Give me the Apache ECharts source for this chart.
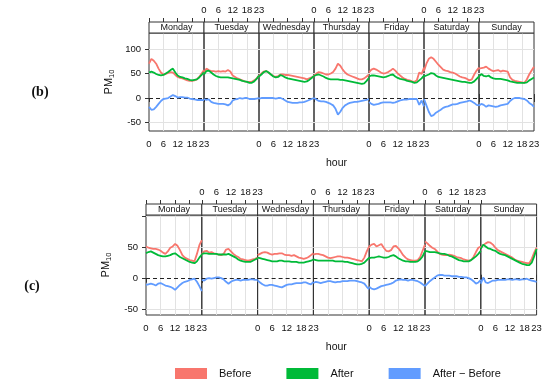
<!DOCTYPE html>
<html><head><meta charset="utf-8">
<script src="https://cdn.jsdelivr.net/npm/echarts@6/dist/echarts.min.js"></script>
<style>html,body{margin:0;padding:0;background:#fff}#c{width:550px;height:385px}</style>
</head><body><div id="c"></div>
<script>
const DAYS = ['Monday','Tuesday','Wednesday','Thursday','Friday','Saturday','Sunday'];
const HOURS = [0,1,2,3,4,5,6,7,8,9,10,11,12,13,14,15,16,17,18,19,20,21,22,23];
const HOUR_TICKS = [0,6,12,18,23];
const HOUR_GRID = [6,12,18];
const Y_TICKS = [-50,0,50,100];
const Y_GRID = [-50,50,100];
const Y_LABELS_B = [-50,0,50,100];
const Y_LABELS_C = [-50,0,50];
const SERIES_NAMES = ['Before','After','After − Before'];
const COLORS = ['#F8766D','#00BA38','#619CFF'];

// Panel (b)
const B_BEFORE = [
 [70,80,76,70,60,52,48,49,51,53,52,47,43,41,40,38,36,35,35,36,38,43,50,57],
 [52,60,57,55,55,54,55,54,55,54,57,54,46,43,40,38,36,34,33,33,33,36,40,46],
 [45,50,54,55,52,48,45,43,45,48,48,47,47,46,45,44,43,42,41,40,38,40,42,45],
 [45,50,53,52,50,48,48,50,53,60,70,66,58,52,48,46,44,42,40,38,38,40,44,48],
 [52,58,60,58,55,52,50,51,53,56,60,56,50,46,42,39,37,36,34,33,36,52,49,62],
 [55,70,80,83,80,74,68,63,58,56,55,53,52,50,47,44,42,41,39,36,38,48,56,62],
 [60,61,62,64,60,57,55,56,57,54,56,55,54,42,37,35,34,33,32,31,38,48,56,64]
];
const B_AFTER = [
 [52,54,52,49,47,46,47,50,53,57,60,52,46,43,42,40,39,37,36,37,38,42,47,53],
 [48,55,56,52,48,45,43,42,42,42,42,41,40,39,38,37,35,34,33,31,31,34,39,46],
 [44,48,53,55,52,48,44,42,43,47,45,42,40,39,38,37,36,35,34,33,34,37,41,45],
 [45,47,48,46,44,41,39,38,38,38,38,37,37,36,35,34,33,32,31,30,29,30,35,41],
 [44,46,46,45,44,43,42,43,45,47,48,44,41,39,38,37,35,34,33,31,32,36,40,46],
 [44,46,48,51,50,46,43,42,41,40,39,38,37,36,35,34,33,33,32,31,31,34,39,44],
 [44,49,45,44,46,42,40,39,39,39,38,37,36,34,33,32,31,31,31,31,32,36,39,42]
];
const B_DIFF = [
 [-18,-24,-23,-18,-12,-6,-2,-1,0,3,6,4,1,2,2,1,1,-1,-2,-3,-4,-4,-4,-5],
 [-2,-4,-3,-8,-10,-11,-12,-12,-12,-13,-15,-12,-5,-3,-2,0,-1,0,0,-2,-2,-2,-1,0],
 [-1,0,0,0,0,0,0,-1,0,0,-2,-5,-8,-9,-10,-10,-10,-9,-9,-8,-6,-4,-2,0],
 [0,-3,-6,-7,-7,-8,-10,-12,-15,-22,-34,-28,-20,-15,-12,-10,-9,-8,-8,-7,-6,-5,-4,-2],
 [-8,-12,-14,-13,-12,-10,-9,-9,-9,-9,-10,-9,-7,-5,-4,-3,-3,-2,-2,-2,-2,-14,-5,-17],
 [-2,-15,-28,-37,-35,-30,-27,-24,-20,-18,-17,-15,-13,-13,-12,-10,-9,-8,-7,-5,-7,-10,-14,-15],
 [-15,-12,-14,-18,-15,-16,-17,-18,-17,-15,-14,-13,-12,-6,-2,0,0,0,-1,-2,-5,-10,-13,-18]
];
// Panel (c)
const C_BEFORE = [
 [52,50,49,48,48,47,45,42,40,44,50,52,56,53,46,38,34,32,30,29,28,40,54,62],
 [40,44,45,42,43,41,40,39,38,40,47,48,44,40,37,35,32,31,30,29,30,31,32,34],
 [38,40,42,43,42,40,39,40,40,41,41,39,38,38,37,38,36,34,33,32,33,35,38,41],
 [39,40,40,39,38,36,34,33,34,35,36,36,35,34,34,33,32,31,30,29,28,34,44,52],
 [52,55,56,52,54,56,50,45,44,46,52,53,49,44,38,34,31,30,29,29,30,35,45,55],
 [60,57,53,50,48,44,40,39,38,38,39,38,37,35,34,33,31,30,29,30,35,43,50,52],
 [50,54,57,59,58,55,50,46,44,42,40,38,36,34,31,29,28,27,26,25,25,32,42,50]
];
const C_AFTER = [
 [41,43,44,42,40,38,37,36,36,37,38,40,41,38,35,33,31,29,27,26,25,28,34,39],
 [40,41,41,40,40,40,40,39,39,39,39,40,38,36,34,31,29,28,27,27,27,29,31,33],
 [34,33,32,31,30,29,28,28,28,29,29,28,28,28,27,27,27,26,26,26,27,28,29,31],
 [31,30,29,29,29,29,29,29,29,28,28,28,28,27,27,26,25,24,23,23,24,26,30,34],
 [33,34,34,35,36,35,34,34,35,37,38,36,33,31,29,28,28,27,27,27,28,31,36,44],
 [45,44,43,43,43,42,41,40,40,39,37,36,34,32,30,29,28,28,28,30,33,36,40,45],
 [48,55,52,49,48,46,45,42,40,39,38,36,34,32,30,28,26,24,23,22,22,26,36,48]
];
const C_DIFF = [
 [-10,-9,-8,-9,-11,-8,-7,-9,-11,-12,-13,-15,-18,-14,-10,-7,-5,-4,-2,-1,0,-5,-12,-20],
 [-2,-3,0,1,0,1,2,2,1,-1,-5,-8,-5,-3,-2,-2,-3,-2,-2,-2,-1,-1,-2,-2],
 [-3,-6,-9,-11,-11,-10,-10,-11,-12,-13,-14,-12,-10,-9,-9,-8,-7,-7,-7,-6,-6,-8,-9,-5],
 [-7,-5,-6,-7,-6,-5,-4,-4,-5,-6,-5,-5,-4,-4,-4,-3,-3,-3,-4,-5,-6,-8,-13,-17],
 [-13,-16,-17,-16,-14,-12,-11,-10,-9,-8,-6,-3,-2,-1,-2,-2,-3,-2,-2,-3,-4,-6,-9,-12],
 [-12,-8,-4,-1,2,5,6,6,5,5,5,4,4,4,3,3,2,2,1,-1,-4,-8,-6,-2],
 [-8,2,-6,-7,-5,-3,-3,-2,-2,-2,-2,-1,-1,-2,-1,-1,-2,-1,-1,0,-2,-3,-4,-5]
];

const FONT = 'Liberation Sans, Arial, sans-serif';
const PANELS = [
  {tag:'(b)', tagX:40, tagY:92, left:149, dayW:55, top:33, height:98, stripH:11, ymin:-67.3, ymax:132.7,
   ylabels:Y_LABELS_B, hourY:163, data:[B_BEFORE,B_AFTER,B_DIFF]},
  {tag:'(c)', tagX:32, tagY:286, left:146, dayW:55.8, top:215, height:100, stripH:11, ymin:-58.5, ymax:102.7,
   ylabels:Y_LABELS_C, hourY:347, data:[C_BEFORE,C_AFTER,C_DIFF]}
];

const grid=[], xAxis=[], yAxis=[], series=[], graphic=[];
const labelStyle = {fontSize:9.5, color:'#111', fontFamily:FONT};
PANELS.forEach(P => {
  DAYS.forEach((day, di) => {
    const gi = grid.length;
    const gl = P.left + di*P.dayW;
    grid.push({left:gl, top:P.top, width:P.dayW, height:P.height, show:true,
      borderColor:'#333', borderWidth:1, backgroundColor:'rgba(0,0,0,0)', containLabel:false});
    xAxis.push({type:'value', gridIndex:gi, min:0, max:23, position:'bottom',
      axisLine:{show:false}, splitLine:{show:false},
      axisTick:{show:true, customValues:HOUR_TICKS, length:4, lineStyle:{color:'#333'}},
      axisLabel:Object.assign({show:di%2===0, customValues:HOUR_TICKS, margin:8}, labelStyle)});
    const xb = xAxis.length-1;
    xAxis.push({type:'value', gridIndex:gi, min:0, max:23, position:'top', offset:P.stripH,
      axisLine:{show:false}, splitLine:{show:false},
      axisTick:{show:true, customValues:HOUR_TICKS, length:4, lineStyle:{color:'#333'}},
      axisLabel:Object.assign({show:di%2===1, customValues:HOUR_TICKS, margin:7}, labelStyle)});
    const yA = {type:'value', gridIndex:gi, min:P.ymin, max:P.ymax, position:'left',
      axisLine:{show:false}, splitLine:{show:false},
      axisTick:{show:di===0, customValues:Y_TICKS, length:4, lineStyle:{color:'#333'}},
      axisLabel:Object.assign({show:di===0, customValues:P.ylabels, margin:8}, labelStyle)};
    if (di===0) {
      yA.name = '{a|PM}{b|10}';
      yA.nameLocation = 'middle';
      yA.nameGap = 33;
      yA.nameRotate = 90;
      yA.nameTextStyle = {fontFamily:FONT, color:'#111',
        rich:{a:{fontSize:11, fontFamily:FONT, color:'#111'}, b:{fontSize:7.5, fontFamily:FONT, color:'#111', padding:[6,0,0,0]}}};
    }
    yAxis.push(yA);
    const yi = yAxis.length-1;
    if (di===6) {
      yAxis.push({type:'value', gridIndex:gi, min:P.ymin, max:P.ymax, position:'right',
        axisLine:{show:false}, splitLine:{show:false},
        axisTick:{show:true, customValues:Y_TICKS, length:4, lineStyle:{color:'#333'}},
        axisLabel:{show:false}});
    }
    // gridlines
    series.push({type:'line', xAxisIndex:xb, yAxisIndex:yi, data:[[0,null]], silent:true, symbol:'none', z:1,
      markLine:{silent:true, symbol:['none','none'], label:{show:false}, animation:false, z:1,
        data:[
          ...HOUR_GRID.map(h=>({xAxis:h, lineStyle:{color:'#e2e2e2', width:1, type:'solid'}})),
          ...Y_GRID.map(v=>({yAxis:v, lineStyle:{color:'#e2e2e2', width:1, type:'solid'}})),
          {yAxis:0, lineStyle:{color:'#222', width:1.2, type:[4,3]}}
        ]}});
    P.data.forEach((arr, si) => {
      series.push({type:'line', name:SERIES_NAMES[si], xAxisIndex:xb, yAxisIndex:yi,
        data:HOURS.map((h,k)=>[h, arr[di][k]]), showSymbol:false, symbol:'none',
        color:COLORS[si], lineStyle:{width:1.8, color:COLORS[si]}, itemStyle:{color:COLORS[si]},
        z:3, animation:false, clip:true});
    });
    // strip
    graphic.push({type:'rect', shape:{x:gl, y:P.top-P.stripH, width:P.dayW, height:P.stripH},
      style:{fill:'#fff', stroke:'#333', lineWidth:1}, z:10});
    graphic.push({type:'text', x:gl+P.dayW/2, y:P.top-P.stripH/2+0.5, z:11,
      style:{text:day, fontSize:9, fontFamily:FONT, fill:'#111', align:'center', verticalAlign:'middle'}});
  });
  graphic.push({type:'text', x:P.left+3.5*P.dayW-5, y:P.hourY, z:11,
    style:{text:'hour', fontSize:10.5, fontFamily:FONT, fill:'#111', align:'center', verticalAlign:'middle'}});
  graphic.push({type:'text', x:P.tagX, y:P.tagY, z:11,
    style:{text:P.tag, fontSize:14, fontWeight:'bold', fontFamily:'Liberation Serif, serif', fill:'#111', align:'center', verticalAlign:'middle'}});
});

const chart = echarts.init(document.getElementById('c'), null, {renderer:'canvas'});
chart.setOption({
  animation:false,
  backgroundColor:'#fff',
  grid, xAxis, yAxis, series, graphic,
  legend:{left:175, top:368, padding:0, itemWidth:32, itemHeight:11, itemGap:35, icon:'rect', selectedMode:false,
    data:SERIES_NAMES, itemStyle:{borderWidth:0},
    textStyle:{fontSize:11, fontFamily:FONT, color:'#111', padding:[0,0,0,7]}}
});
</script></body></html>
